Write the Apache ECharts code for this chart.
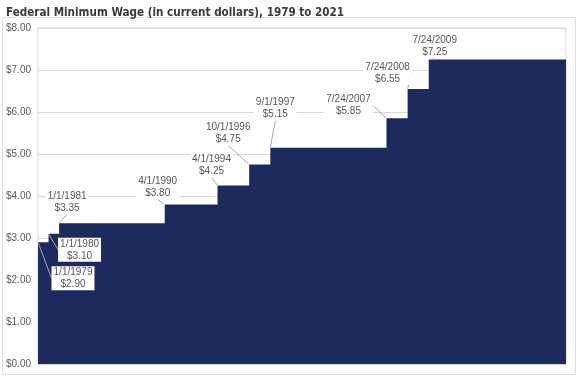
<!DOCTYPE html>
<html>
<head>
<meta charset="utf-8">
<script src="https://cdn.jsdelivr.net/npm/echarts@6/dist/echarts.min.js"></script>
<style>
  html, body {margin: 0; padding: 0; background: #fff;}
  #chart {width: 577px; height: 377px;}
</style>
</head>
<body>
<div id="chart"></div>
<script>
// rows of the source table: Jan 1 of each year plus each mid-year change
const rows = [
  '1/1/1979', '1/1/1980', '1/1/1981', '1/1/1982', '1/1/1983', '1/1/1984', '1/1/1985',
  '1/1/1986', '1/1/1987', '1/1/1988', '1/1/1989', '1/1/1990', '4/1/1990', '1/1/1991',
  '1/1/1992', '1/1/1993', '1/1/1994', '4/1/1994', '1/1/1995', '1/1/1996', '10/1/1996',
  '1/1/1997', '9/1/1997', '1/1/1998', '1/1/1999', '1/1/2000', '1/1/2001', '1/1/2002',
  '1/1/2003', '1/1/2004', '1/1/2005', '1/1/2006', '1/1/2007', '7/24/2007', '1/1/2008',
  '7/24/2008', '1/1/2009', '7/24/2009', '1/1/2010', '1/1/2011', '1/1/2012', '1/1/2013',
  '1/1/2014', '1/1/2015', '1/1/2016', '1/1/2017', '1/1/2018', '1/1/2019', '1/1/2020',
  '1/1/2021', '12/31/2021'
]
// dates the federal minimum wage changed, and the new rate
const changeDates = ['1/1/1979', '1/1/1980', '1/1/1981', '4/1/1990', '4/1/1994',
  '10/1/1996', '9/1/1997', '7/24/2007', '7/24/2008', '7/24/2009']
const wages = [2.90, 3.10, 3.35, 3.80, 4.25, 4.75, 5.15, 5.85, 6.55, 7.25]
const endDate = '12/31/2021'
const yTicks = [0, 1, 2, 3, 4, 5, 6, 7, 8]

// label offsets from each step corner (px)
const labelOffsets = [
  [35, 36], [31, 16], [8, -21], [-7, -17], [-6, -20],
  [-21, -31], [5, -39], [-38, -13], [-20, -16], [6, -13]
]

const changePoints = changeDates.map((d, i) => [d, wages[i]])
const stepData = changePoints.concat([[endDate, wages[wages.length - 1]]])

const chart = echarts.init(document.getElementById('chart'))
chart.setOption({
  animation: false,
  backgroundColor: '#fff',
  title: {
    text: 'Federal Minimum Wage (in current dollars), 1979 to 2021',
    left: 1,
    top: 2,
    textStyle: {fontFamily: 'DejaVu Sans Condensed', fontWeight: 'bold', fontSize: 11.6, color: '#3a3a3a'}
  },
  graphic: [{
    type: 'rect',
    shape: {x: 2.5, y: 17.5, width: 573, height: 357},
    style: {fill: 'none', stroke: '#e0e0e0', lineWidth: 1},
    silent: true
  }],
  grid: {
    left: 38, right: 11, top: 28, bottom: 13,
    show: true, borderColor: '#d9d9d9', borderWidth: 1
  },
  xAxis: {
    type: 'category',
    data: rows,
    boundaryGap: false,
    axisLabel: {show: false},
    axisTick: {show: false},
    axisLine: {show: false},
    splitLine: {show: false}
  },
  yAxis: {
    type: 'value',
    min: yTicks[0],
    max: yTicks[yTicks.length - 1],
    interval: 1,
    axisLine: {show: false},
    axisTick: {show: false},
    axisLabel: {
      color: '#595959',
      fontFamily: 'Liberation Sans',
      fontSize: 10,
      margin: 7,
      formatter: v => '$' + v.toFixed(2)
    },
    splitLine: {lineStyle: {color: '#d9d9d9'}}
  },
  series: [
    {
      type: 'line',
      step: 'end',
      data: stepData,
      symbol: 'none',
      lineStyle: {width: 0},
      areaStyle: {color: '#1d2a5e', opacity: 1},
      z: 2
    },
    {
      type: 'scatter',
      data: changePoints,
      symbolSize: 1,
      itemStyle: {color: 'rgba(0,0,0,0)', opacity: 1},
      z: 5,
      label: {
        show: true,
        position: 'inside',
        formatter: p => changeDates[p.dataIndex] + '\n$' + wages[p.dataIndex].toFixed(2),
        backgroundColor: '#fff',
        padding: [0, 2],
        fontFamily: 'Liberation Sans',
        fontSize: 10,
        lineHeight: 12,
        color: '#555555',
        align: 'center'
      },
      labelLine: {show: true, lineStyle: {color: '#a6a6a6', width: 1}},
      labelLayout: p => ({
        dx: labelOffsets[p.dataIndex][0],
        dy: labelOffsets[p.dataIndex][1],
        hideOverlap: false
      })
    }
  ]
})
</script>
</body>
</html>
